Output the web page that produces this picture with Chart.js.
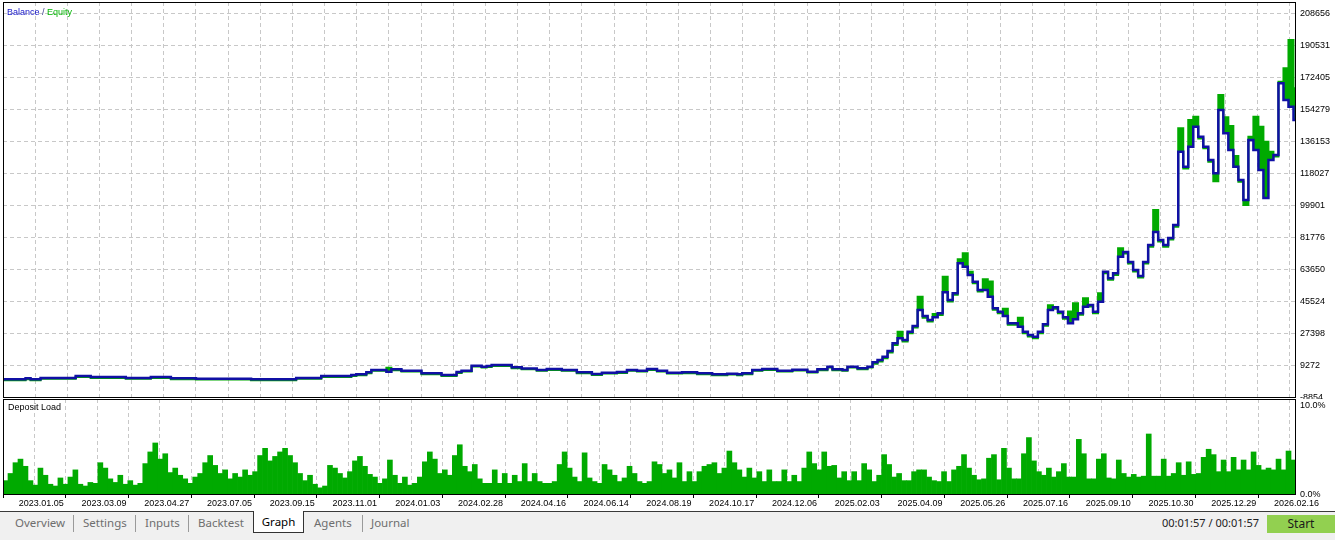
<!DOCTYPE html>
<html>
<head>
<meta charset="utf-8">
<title>Balance / Equity</title>
<script src="https://cdn.jsdelivr.net/npm/chart.js@4.4.1/dist/chart.umd.min.js"></script>
<style>
  body { margin: 0; width: 1335px; height: 540px; background: #fff; overflow: hidden; position: relative; font-family: "Liberation Sans", Arial, sans-serif; }
  canvas { position: absolute; left: 0; }
  #mainChart { top: 0; }
  #loadChart { top: 399px; }
  .caption { position: absolute; font-size: 9px; line-height: 12px; white-space: nowrap; }
  #legend { left: 7px; top: 6px; }
  #legend .bal { color: #1414c8; }
  #legend .sep { color: #3c3c8c; }
  #legend .eq { color: #00b400; }
  #loadTitle { left: 8px; top: 401px; color: #000; }
  #bar { position: absolute; left: 0; top: 511px; width: 1335px; height: 29px; background: #f0f0f0; border-top: 1px solid #3a3a3a; box-sizing: border-box; }
  .tab { position: absolute; top: 3px; font-family: "Noto Sans", sans-serif; font-size: 11.5px; line-height: 16px; color: #6e6e6e; white-space: nowrap; }
  .tab.active { top: -1px; left: 253px; width: 49px; height: 21px; background: #fff; border: 1px solid #333; border-top: none; color: #000; text-align: center; line-height: 22px; }
  .vsep { position: absolute; top: 3px; width: 1px; height: 17px; background: #9a9a9a; }
  #timer { position: absolute; left: 1162px; top: 3px; font-family: "Noto Sans", sans-serif; font-size: 11px; line-height: 16px; color: #222; }
  #start { position: absolute; left: 1267px; top: 3px; width: 68px; height: 18px; background: #92d050; font-family: "Noto Sans", sans-serif; font-size: 12px; line-height: 18px; text-align: center; color: #1a1a1a; }
</style>
</head>
<body>
<canvas id="mainChart" width="1335" height="399"></canvas>
<canvas id="loadChart" width="1335" height="113"></canvas>
<div class="caption" id="legend"><span class="bal">Balance</span> <span class="sep">/</span> <span class="eq">Equity</span></div>
<div class="caption" id="loadTitle">Deposit Load</div>
<div id="bar">
  <span class="tab" style="left:15px">Overview</span>
  <span class="vsep" style="left:73px"></span>
  <span class="tab" style="left:83px">Settings</span>
  <span class="vsep" style="left:135px"></span>
  <span class="tab" style="left:145px">Inputs</span>
  <span class="vsep" style="left:188px"></span>
  <span class="tab" style="left:198px">Backtest</span>
  <span class="tab active">Graph</span>
  <span class="tab" style="left:314px">Agents</span>
  <span class="vsep" style="left:362px"></span>
  <span class="tab" style="left:371px">Journal</span>
  <span id="timer">00:01:57 / 00:01:57</span>
  <span id="start">Start</span>
</div>
<script>
// Date labels under every second vertical grid line
const dates = [
  "2023.01.05", "2023.03.09", "2023.04.27", "2023.07.05", "2023.09.15", "2023.11.01",
  "2024.01.03", "2024.02.28", "2024.04.16", "2024.06.14", "2024.08.19", "2024.10.17",
  "2024.12.06", "2025.02.03", "2025.04.09", "2025.05.26", "2025.07.16", "2025.09.10",
  "2025.10.30", "2025.12.29", "2026.02.16"
];

// Right axis tick labels
const yTicks = [-8854, 9272, 27398, 45524, 63650, 81776, 99901, 118027, 136153, 154279, 172405, 190531, 208656];
const loadTicks = [0, 10];

// Balance by deal
const balance = [
  1570, 1570, 1570, 1570, 1570, 2140, 1570, 1570, 2310, 2310,
  2310, 2310, 2310, 2310, 2310, 3440, 3440, 3440, 2870, 2870,
  2870, 2870, 2870, 2870, 2870, 2310, 2310, 2310, 2310, 2310,
  2870, 2870, 2870, 2870, 2140, 2140, 2140, 2140, 2140, 1910,
  1910, 1910, 1910, 1910, 1910, 1910, 1910, 1910, 1910, 1910,
  1570, 1570, 1570, 1570, 1570, 1570, 1570, 1570, 1570, 2310,
  2310, 2310, 2310, 2310, 3440, 3440, 3440, 3440, 3440, 3440,
  4000, 4400, 4400, 5530, 6840, 6840, 6840, 5870, 7230, 7230,
  6440, 6440, 6440, 6440, 4970, 4970, 4970, 4970, 4000, 4000,
  4000, 5700, 6440, 6440, 9270, 9270, 8710, 9100, 9670, 9670,
  9670, 9670, 8370, 8370, 7690, 7690, 7690, 6840, 6840, 7400,
  7400, 7400, 6840, 6840, 6840, 5530, 5530, 5530, 4570, 4570,
  5310, 5310, 5310, 5700, 5700, 6840, 6840, 6440, 6440, 7400,
  7400, 6440, 6440, 5310, 5310, 5310, 5530, 5530, 5530, 4970,
  4970, 4970, 4400, 4400, 4400, 4740, 4740, 4400, 4970, 4970,
  6840, 6840, 7400, 7400, 7400, 6440, 6440, 6440, 7010, 7010,
  7010, 5870, 5870, 7230, 7230, 8710, 7230, 7230, 6840, 8710,
  8710, 7800, 7800, 8710, 11200, 12500, 14370, 17600, 21960, 24790,
  23830, 28530, 31760, 40820, 37420, 35160, 36690, 38950, 50850, 46490,
  50280, 67270, 65350, 60640, 56850, 52150, 52150, 48350, 41780, 39860,
  37420, 33290, 33290, 31360, 28530, 26660, 25700, 28530, 32720, 40820,
  42350, 39860, 36690, 33290, 35550, 38950, 42690, 43650, 39860, 45520,
  62510, 58780, 61610, 71010, 73670, 68010, 63480, 60080, 68010, 77640,
  85000, 80470, 77640, 81600, 88960, 130480, 121990, 133310, 144640, 138980,
  133310, 125780, 118250, 154100, 140900, 131450, 121990, 114450, 103120, 137110,
  131450, 120120, 104260, 125780, 128610, 169220, 159770, 155970, 148440
];

// Equity by deal
const equity = [
  1070, 1070, 1070, 1070, 1070, 1640, 1070, 1070, 1810, 1810,
  1810, 1810, 1810, 1810, 1810, 2940, 2940, 2940, 2370, 2370,
  2370, 2370, 2370, 2370, 2370, 1810, 1810, 1810, 1810, 1810,
  2370, 2370, 2370, 2370, 1640, 1640, 1640, 1640, 1640, 1410,
  1410, 1410, 1410, 1410, 1410, 1410, 1410, 1410, 1410, 1410,
  1070, 1070, 1070, 1070, 1070, 1070, 1070, 1070, 1070, 1810,
  1810, 1810, 1810, 1810, 2940, 2940, 2940, 2940, 2940, 2940,
  3500, 3900, 3900, 5030, 6340, 6340, 6340, 8140, 6730, 6730,
  5940, 5940, 5940, 5940, 4470, 4470, 4470, 4470, 3500, 3500,
  3500, 5200, 5940, 5940, 8770, 8770, 8210, 8600, 9170, 9170,
  9170, 9170, 7870, 7870, 7190, 7190, 7190, 6340, 6340, 6900,
  6900, 6900, 6340, 6340, 6340, 5030, 5030, 5030, 4070, 4070,
  4810, 4810, 4810, 5200, 5200, 6340, 6340, 5940, 5940, 6900,
  6900, 5940, 5940, 4810, 4810, 4810, 5030, 5030, 5030, 4470,
  4470, 4470, 3900, 3900, 3900, 4240, 4240, 3900, 4470, 4470,
  6340, 6340, 6900, 6900, 6900, 5940, 5940, 5940, 6510, 6510,
  6510, 5370, 5370, 6730, 6730, 8210, 6730, 6730, 6340, 8210,
  8210, 7300, 7300, 8210, 10400, 11700, 13500, 16800, 21000, 28530,
  23000, 27700, 30900, 48350, 36500, 34300, 38500, 38000, 59680, 45600,
  49400, 69540, 72940, 62500, 56000, 51300, 58210, 57000, 40900, 39000,
  41500, 32400, 32400, 36460, 27700, 25800, 24800, 27700, 31900, 43500,
  41500, 39000, 35800, 40000, 44620, 38100, 47450, 42800, 39000, 50280,
  61600, 57900, 60700, 75770, 72800, 67100, 62600, 59200, 67100, 76700,
  97460, 79600, 76700, 80700, 88000, 143740, 121000, 148440, 150310, 138000,
  132400, 124800, 113700, 162600, 150000, 145000, 128000, 113500, 100300, 138980,
  150310, 144640, 136150, 130480, 127700, 170130, 177720, 193750, 166390
];

// Deposit load, percent
const depositLoad = [
  1.6, 2.4, 3.6, 4.0, 3.2, 1.6, 1.1, 3.0, 2.2, 1.2,
  1.0, 1.9, 1.2, 2.0, 2.8, 1.2, 1.0, 1.4, 1.3, 3.6,
  3.0, 1.8, 1.4, 2.2, 1.2, 1.6, 1.1, 1.3, 3.5, 4.8,
  5.8, 4.0, 4.6, 2.5, 3.0, 2.2, 1.8, 1.3, 2.0, 2.4,
  3.6, 4.4, 3.3, 2.4, 2.8, 1.8, 2.4, 2.0, 2.8, 2.2,
  2.6, 4.4, 5.2, 3.8, 4.3, 4.8, 5.2, 4.4, 3.6, 2.4,
  1.6, 2.2, 1.2, 0.8, 1.0, 3.3, 3.0, 2.4, 1.9, 2.6,
  3.8, 4.3, 3.2, 2.3, 2.0, 1.3, 1.8, 3.9, 2.2, 1.3,
  2.0, 1.1, 1.3, 2.0, 3.7, 4.8, 4.0, 2.4, 2.8, 2.2,
  4.4, 5.6, 3.2, 2.6, 3.4, 1.8, 1.3, 1.3, 2.8, 1.3,
  2.4, 1.3, 2.2, 1.5, 3.5, 1.5, 2.4, 1.5, 1.3, 1.3,
  1.5, 3.4, 4.8, 3.0, 2.0, 1.5, 4.7, 1.9, 1.5, 1.3,
  3.4, 2.8, 2.2, 1.5, 1.9, 3.2, 2.4, 1.5, 1.3, 1.5,
  3.7, 3.4, 2.4, 2.8, 1.9, 3.6, 1.5, 2.6, 1.5, 2.6,
  3.2, 3.4, 3.6, 2.4, 3.0, 4.9, 3.6, 2.8, 2.0, 3.0,
  1.9, 2.6, 1.5, 2.8, 1.5, 1.5, 2.8, 1.5, 2.2, 1.5,
  3.0, 4.8, 3.5, 2.8, 4.8, 3.2, 3.3, 1.9, 2.6, 1.6,
  2.6, 1.6, 3.5, 2.8, 1.5, 2.2, 4.5, 3.4, 2.0, 2.4,
  1.6, 1.6, 2.6, 2.8, 2.8, 2.0, 1.6, 1.5, 2.6, 1.5,
  2.8, 3.2, 4.5, 3.0, 2.2, 1.7, 1.8, 4.1, 4.5, 1.7,
  5.2, 3.0, 1.8, 1.8, 4.6, 6.4, 3.8, 2.6, 2.2, 3.0,
  2.0, 2.6, 3.5, 2.0, 2.0, 6.2, 4.6, 1.8, 1.8, 4.0,
  4.6, 1.9, 1.8, 3.9, 2.4, 2.0, 2.3, 2.0, 2.1, 6.8,
  2.1, 2.1, 4.0, 2.1, 2.4, 3.6, 2.2, 3.7, 2.3, 2.4,
  4.2, 5.1, 4.5, 2.6, 3.9, 2.6, 4.2, 2.8, 3.9, 2.8,
  4.8, 3.3, 2.8, 3.0, 2.8, 4.0, 2.8, 4.9, 3.9
];

const BLUE = '#1010a4';
const GREEN = '#00aa00';
const GRID_COLOR = '#c8c8c8';
const GRID_CELLS = 40.2;      // vertical grid cells across the plot
const Y_MIN = -9024;
const Y_MAX = 215270;
const LOAD_MAX = 10.7;

Chart.defaults.font.family = '"Liberation Sans", Arial, sans-serif';
Chart.defaults.font.size = 9;
Chart.defaults.color = '#000';

// Black box round the plot area
const frame = {
  id: 'frame',
  afterDraw(chart) {
    const { ctx, chartArea: a } = chart;
    ctx.save();
    ctx.strokeStyle = '#000';
    ctx.lineWidth = 1;
    ctx.strokeRect(a.left + 0.5, a.top + 0.5, a.right - a.left - 1, a.bottom - a.top - 1);
    ctx.restore();
  }
};

function noPadding(scale) {
  scale.paddingTop = 0;
  scale.paddingBottom = 0;
  scale.paddingLeft = 0;
  scale.paddingRight = 0;
}

// Shared axis for the dashed vertical grid and the dates
function dateAxis(withLabels) {
  return {
    type: 'linear',
    axis: 'x',
    position: 'bottom',
    min: 0,
    max: GRID_CELLS,
    afterBuildTicks: scale => {
      scale.ticks = [];
      for (let k = 0; k <= 40; k++) scale.ticks.push({ value: k });
    },
    afterFit: noPadding,
    grid: {
      color: GRID_COLOR,
      drawTicks: withLabels,
      tickLength: 3,
      tickColor: c => c.index % 2 === 0 ? '#000' : 'rgba(0,0,0,0)'
    },
    border: { display: false, dash: [4, 3] },
    ticks: {
      display: withLabels,
      autoSkip: false,
      maxRotation: 0,
      minRotation: 0,
      align: 'start',
      padding: 0,
      callback: (v, i) => i % 2 === 0 ? dates[i / 2] : ''
    }
  };
}

function rightAxis(min, max, ticks, fmt, showGrid) {
  return {
    type: 'linear',
    position: 'right',
    min: min,
    max: max,
    afterBuildTicks: scale => { scale.ticks = ticks.map(v => ({ value: v })); },
    afterFit: scale => { scale.width = 39; noPadding(scale); },
    grid: { display: showGrid, color: GRID_COLOR, drawTicks: false },
    border: { display: false, dash: [4, 3] },
    ticks: { padding: 4, callback: fmt }
  };
}

const deals = balance.map((_, i) => i);

new Chart(document.getElementById('mainChart'), {
  type: 'line',
  data: {
    labels: deals,
    datasets: [
      { label: 'Balance', data: balance, xAxisID: 'x', yAxisID: 'y', borderColor: BLUE, borderWidth: 2.5, stepped: 'middle', pointRadius: 0 },
      // equity spikes are filled down to the balance line
      { label: 'Equity', data: equity, xAxisID: 'x', yAxisID: 'y', borderColor: GREEN, backgroundColor: GREEN, fill: '-1', borderWidth: 2, stepped: 'middle', pointRadius: 0 }
    ]
  },
  options: {
    responsive: false,
    animation: false,
    events: [],
    layout: { padding: { left: 3, top: 2, right: 0, bottom: 1 } },
    plugins: { legend: { display: false }, tooltip: { enabled: false } },
    scales: {
      x: { type: 'category', display: false, offset: false },
      g: dateAxis(false),
      y: rightAxis(Y_MIN, Y_MAX, yTicks, v => String(v), true)
    }
  },
  plugins: [frame]
});

new Chart(document.getElementById('loadChart'), {
  type: 'bar',
  data: {
    labels: depositLoad.map((_, i) => i),
    datasets: [{
      label: 'Deposit Load',
      data: depositLoad,
      xAxisID: 'x',
      yAxisID: 'y',
      backgroundColor: GREEN,
      borderWidth: 0,
      barPercentage: 1,
      categoryPercentage: 1
    }]
  },
  options: {
    responsive: false,
    animation: false,
    events: [],
    layout: { padding: { left: 3, top: 0, right: 0, bottom: 3.2 } },
    plugins: { legend: { display: false }, tooltip: { enabled: false } },
    scales: {
      x: { type: 'category', display: false },
      g: dateAxis(true),
      y: rightAxis(0, LOAD_MAX, loadTicks, v => v.toFixed(1) + '%', false)
    }
  },
  plugins: [frame]
});
</script>
</body>
</html>
